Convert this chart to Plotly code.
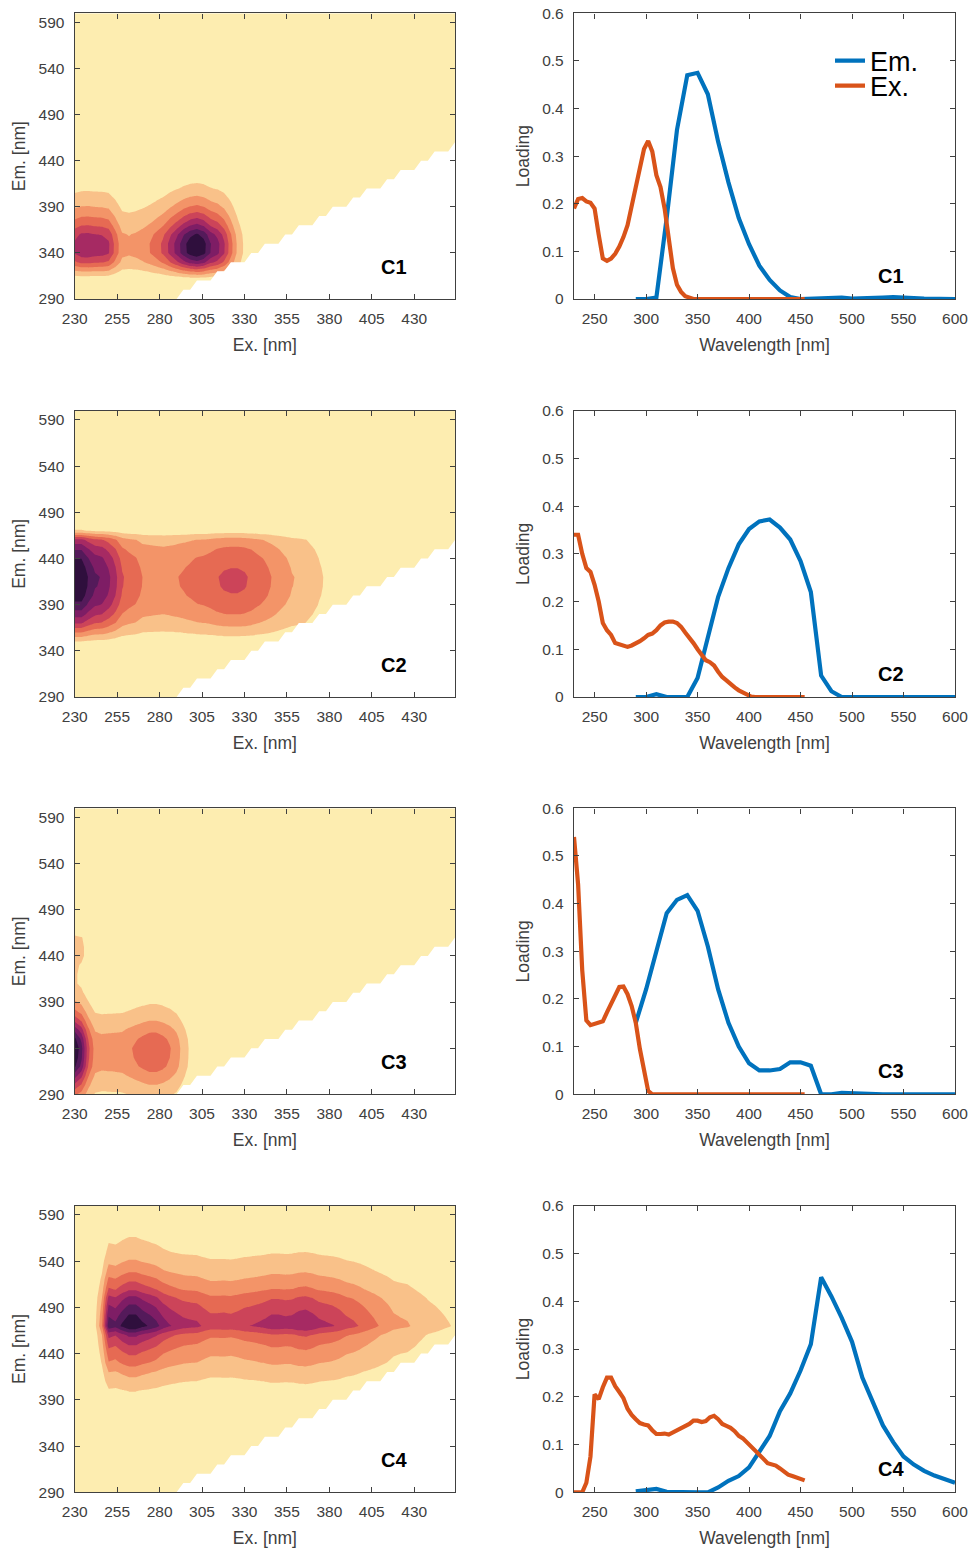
import numpy as np
import plotly.graph_objects as go

W, H = 971, 1548

ex_nm = list(range(230, 455, 4))
em_nm = list(range(290, 601, 10))

ex_c1 = [.19,.21,.212,.205,.202,.19,.135,.085,.08,.085,.095,.11,.13,.155,.195,.235,.28,.315,.332,.31,.26,.235,.19,.125,.065,.03,.015,.006,.002] + [0]*28
em_c1 = [0,0,.003,.17,.355,.47,.475,.43,.33,.245,.17,.115,.07,.04,.018,.004,0,.001,.003,.003,.003,.001,.001,.002,.003,.004,.004,.002,.001,.001,0,0]

ex_c2 = [.34,.34,.30,.27,.262,.235,.20,.155,.14,.13,.113,.11,.107,.105,.108,.112,.117,.123,.13,.133,.14,.15,.156,.158,.158,.155,.147,.135,.125,.113,.10,.088,.077,.073,.066,.053,.042,.035,.027,.02,.014,.009,.004,.001] + [0]*13
em_c2 = [0,0,.006,0,0,0,.04,.125,.21,.27,.32,.352,.368,.372,.355,.33,.285,.22,.045,.012,0,0,0,0,0,0,0,0,0,0,0,0]

ex_c3 = [.54,.44,.26,.155,.145,.148,.15,.153,.172,.19,.208,.225,.226,.21,.185,.15,.095,.05,.007] + [0]*38
em_c3 = [.15,.22,.30,.38,.408,.418,.385,.31,.22,.15,.10,.065,.05,.05,.053,.067,.067,.06,0,0,.003,.002,0,0,0,0,0,0,0,0,0,0]

ex_c4 = [0,0,0,.02,.075,.205,.195,.22,.24,.24,.222,.21,.197,.175,.162,.153,.145,.142,.14,.13,.122,.122,.123,.121,.125,.131,.134,.138,.143,.15,.15,.147,.149,.157,.16,.153,.143,.139,.135,.128,.118,.113,.105,.096,.087,.078,.07,.061,.058,.056,.05,.043,.037,.034,.031,.028,.025]
em_c4 = [.002,.004,.007,.001,0,0,0,0,.01,.024,.034,.052,.085,.118,.17,.207,.255,.31,.45,.41,.365,.315,.24,.19,.14,.105,.075,.058,.045,.035,.027,.02]

labels = ["C1", "C2", "C3", "C4"]
ex_all = [ex_c1, ex_c2, ex_c3, ex_c4]
em_all = [em_c1, em_c2, em_c3, em_c4]

band_colors = ["#FDEDB0","#F9C189","#F39468","#E66A53","#CC4459","#A62A63","#7E1D65","#541A5A","#2F0F3D"]
BLUE, ORANGE = "#0072BD", "#D95319"
TEXT = "#404040"
FONT = "Liberation Sans"

rows_px = [(13.3, 299), (410.7, 697), (808.3, 1094.3), (1205.7, 1492.3)]
left_px = (74.7, 455)
right_px = (574, 955)

ex_ticks = list(range(230, 431, 25))
em_ticks = list(range(290, 591, 50))
wl_ticks = list(range(250, 601, 50))
load_ticks = [0, .1, .2, .3, .4, .5, .6]
load_text = ["0", "0.1", "0.2", "0.3", "0.4", "0.5", "0.6"]

n = len(band_colors)
scale = []
for i, c in enumerate(band_colors):
    scale += [[i / n, c], [(i + 1) / n, c]]

# white region where emission is below excitation, following the measurement grid
ex_arr = np.array(ex_nm)
mx, my = [], []
for em in [e for e in em_nm if e <= 450]:
    top = ex_arr[ex_arr <= em].max()
    mx += [top, top + 4]
    my += [em, em + 10]
mx += [ex_nm[-1], ex_nm[-1]]
my += [my[-1], em_nm[0]]

fig = go.Figure()
layout = {}
annots = []


def axis_common():
    return dict(
        showline=True, linecolor=TEXT, linewidth=1.4, mirror="ticks", ticks="inside",
        ticklen=5, tickwidth=1.2, tickcolor=TEXT, showgrid=False, zeroline=False, automargin=False,
        tickfont=dict(family=FONT, size=15.5, color=TEXT),
    )


for r, (top, bottom) in enumerate(rows_px):
    dom_y = [1 - bottom / H, 1 - top / H]
    ax_l, ax_r = 2 * r + 1, 2 * r + 2
    ex = np.array(ex_all[r])
    em = np.array(em_all[r])
    z = np.outer(em, ex)
    zmax = z.max()
    fig.add_trace(go.Contour(
        x=ex_nm, y=em_nm, z=z.tolist(), xaxis=f"x{ax_l}", yaxis=f"y{ax_l}",
        colorscale=scale, zmin=0, zmax=zmax, showscale=False, autocontour=False,
        contours=dict(start=zmax / n, end=zmax * (n - 1) / n, size=zmax / n, coloring="fill", showlines=False),
        line=dict(width=0, smoothing=0), hoverinfo="skip",
    ))
    fig.add_trace(go.Scatter(
        x=mx, y=my, xaxis=f"x{ax_l}", yaxis=f"y{ax_l}", mode="lines", fill="toself",
        fillcolor="white", line=dict(width=0, color="white"), showlegend=False, hoverinfo="skip",
    ))
    fig.add_trace(go.Scatter(
        x=em_nm, y=em_all[r], xaxis=f"x{ax_r}", yaxis=f"y{ax_r}", mode="lines", name="Em.",
        line=dict(color=BLUE, width=4.2), showlegend=r == 0, legend="legend",
    ))
    fig.add_trace(go.Scatter(
        x=ex_nm, y=ex_all[r], xaxis=f"x{ax_r}", yaxis=f"y{ax_r}", mode="lines", name="Ex.",
        line=dict(color=ORANGE, width=4.2), showlegend=r == 0, legend="legend2",
    ))
    title_font = dict(family=FONT, size=17.5, color=TEXT)
    layout[f"xaxis{ax_l}"] = dict(
        axis_common(), domain=[left_px[0] / W, left_px[1] / W], range=[230, 454], anchor=f"y{ax_l}",
        tickmode="array", tickvals=ex_ticks, ticklabelstandoff=5, title=dict(text="Ex. [nm]", font=title_font, standoff=12),
    )
    layout[f"yaxis{ax_l}"] = dict(
        axis_common(), domain=dom_y, range=[290, 600], anchor=f"x{ax_l}",
        tickmode="array", tickvals=em_ticks, ticklabelstandoff=6, title=dict(text="Em. [nm]", font=title_font, standoff=8),
    )
    layout[f"xaxis{ax_r}"] = dict(
        axis_common(), domain=[right_px[0] / W, right_px[1] / W], range=[230, 600], anchor=f"y{ax_r}",
        tickmode="array", tickvals=wl_ticks, ticklabelstandoff=5, title=dict(text="Wavelength [nm]", font=title_font, standoff=12),
    )
    layout[f"yaxis{ax_r}"] = dict(
        axis_common(), domain=dom_y, range=[0, .6], anchor=f"x{ax_r}",
        tickmode="array", tickvals=load_ticks, ticktext=load_text, ticklabelstandoff=6,
        title=dict(text="Loading", font=title_font, standoff=8),
    )
    annots.append(dict(text=labels[r], x=418, y=325, xref=f"x{ax_l}", yref=f"y{ax_l}", showarrow=False,
                       font=dict(family=FONT, size=20, color="black", weight="bold")))
    annots.append(dict(text=labels[r], x=538, y=.049, xref=f"x{ax_r}", yref=f"y{ax_r}", showarrow=False,
                       font=dict(family=FONT, size=20, color="black", weight="bold")))


def legend_at(px, py):
    return dict(x=px / W, y=1 - py / H, xanchor="left", yanchor="middle", bgcolor="rgba(0,0,0,0)",
                font=dict(family=FONT, size=27, color="black"), itemwidth=30, borderwidth=0)


fig.update_layout(
    width=W, height=H, autosize=False, margin=dict(l=0, r=0, t=0, b=0),
    paper_bgcolor="white", plot_bgcolor="white", annotations=annots,
    legend=legend_at(830, 61), legend2=legend_at(830, 86), **layout,
)
fig.write_html("out.html", config={"displayModeBar": False},
               post_script="document.body.style.margin='0';document.body.style.overflow='hidden';")
